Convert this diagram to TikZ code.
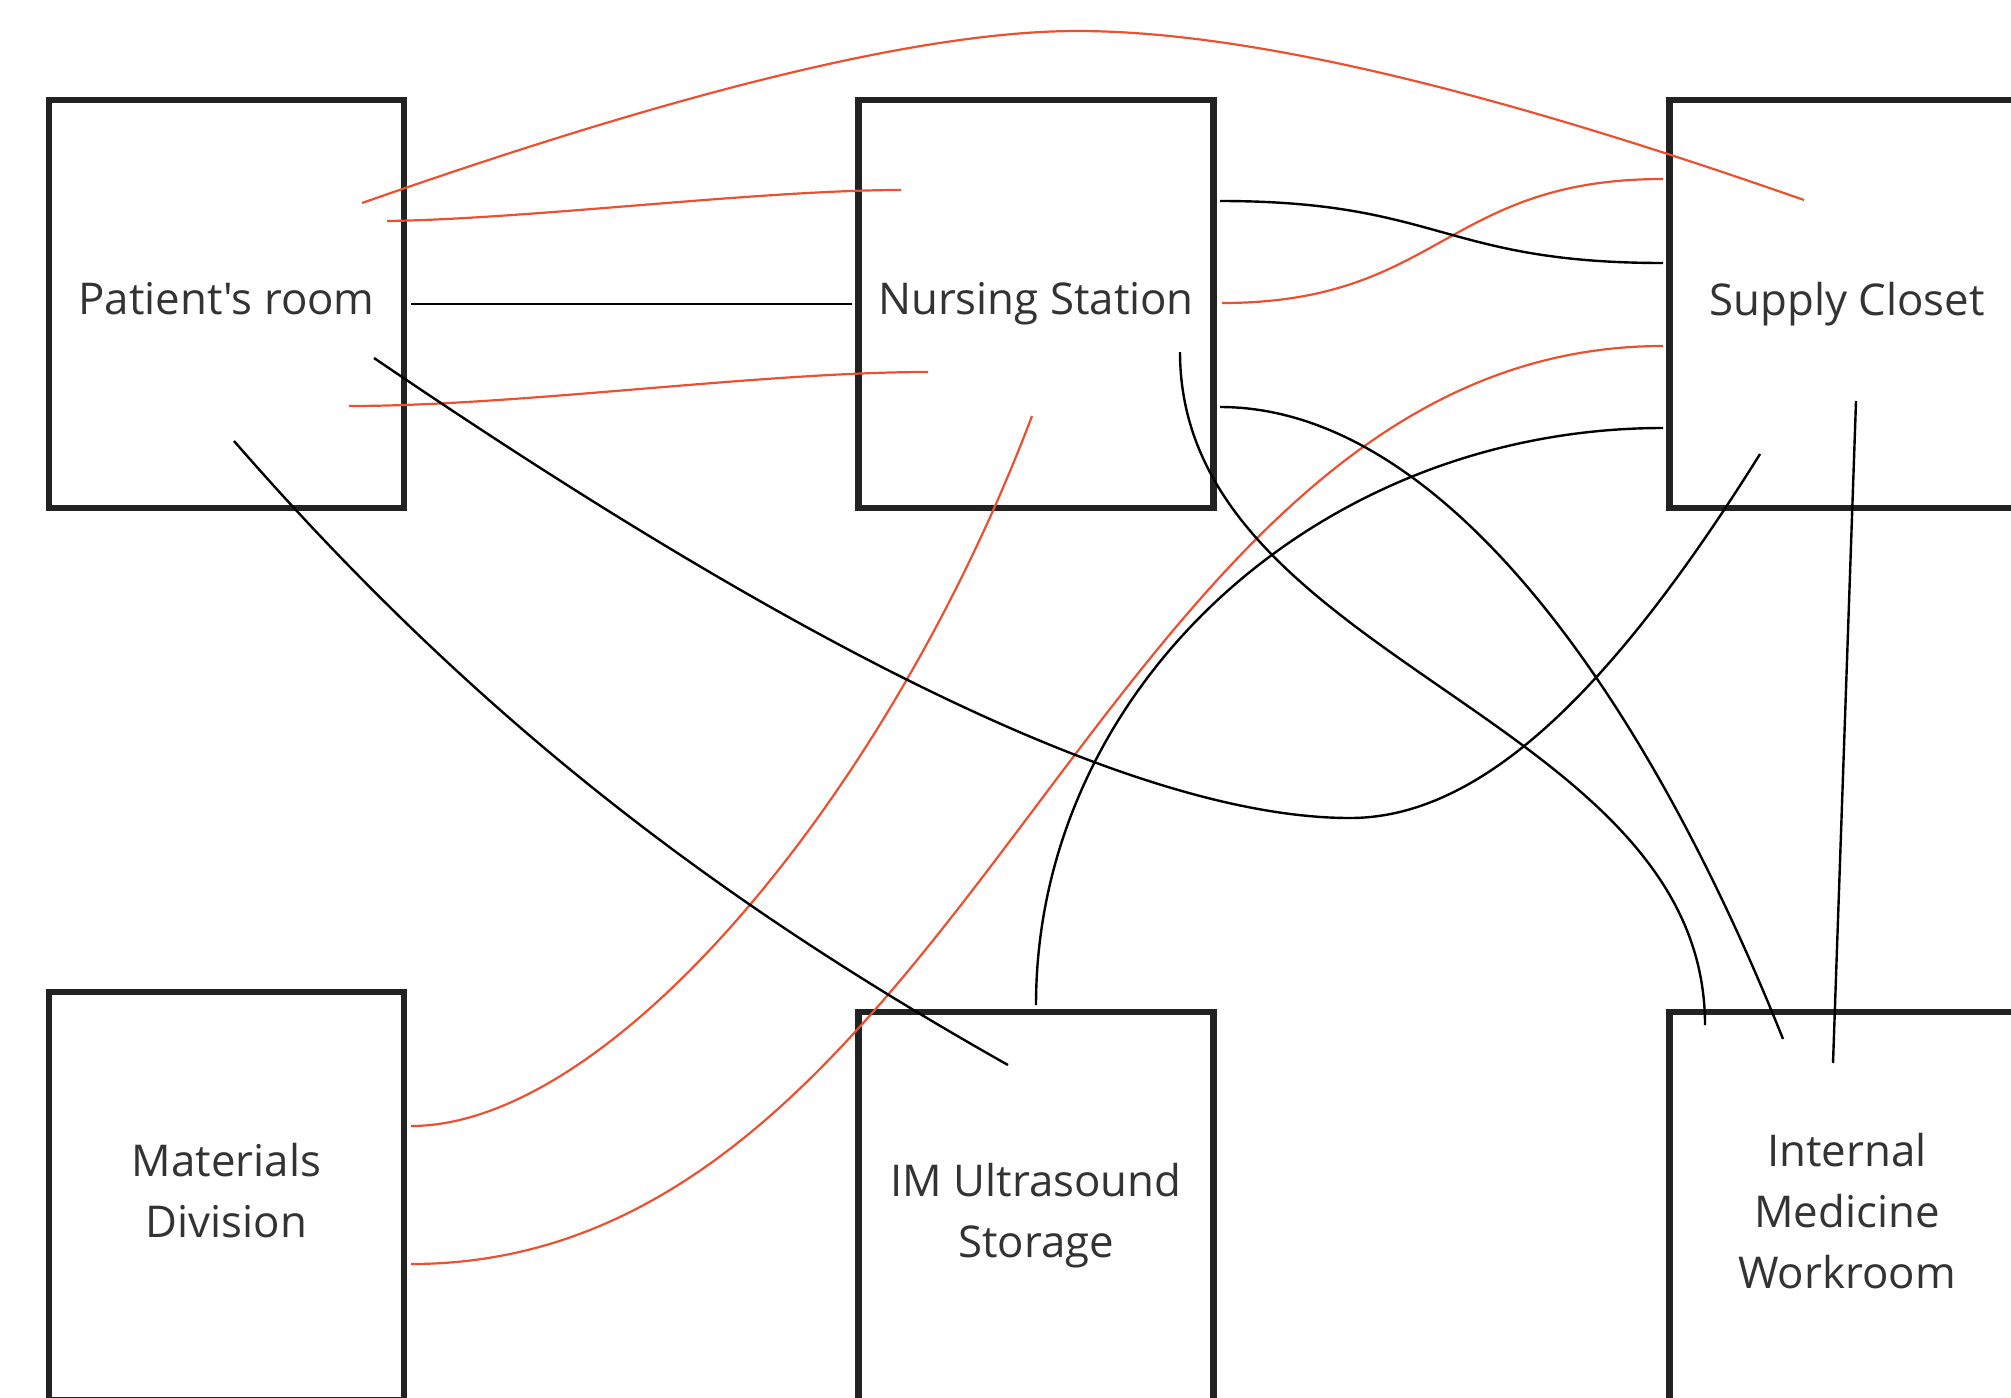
\documentclass[tikz,border=0pt]{standalone}
\usepackage{fontspec}
\usepackage{tikz}
\newfontfamily\roomfont{Open Sans}
\definecolor{linered}{RGB}{236,80,48}
\definecolor{boxgray}{RGB}{34,34,34}
\definecolor{textgray}{RGB}{51,51,51}

\begin{document}
\begin{tikzpicture}[x=0.5pt,y=-0.5pt,
  room/.style={draw=boxgray,line width=3.2pt,minimum width=177.5pt,minimum height=204pt,
    inner sep=0pt,align=center,text=textgray,font=\roomfont\fontsize{21.9}{30.4}\selectfont,
    execute at end node={\vphantom{g}}},
  redline/.style={draw=linered,line width=1.1pt},
  blackline/.style={draw=black,line width=1.2pt}]
\useasboundingbox (0,0) rectangle (2011,1397);
\clip (0,0) rectangle (2011,1397);
\node[room] (pat) at (226.5,304) {Patient's room};
\node[room] (nur) at (1036,304) {Nursing Station};
\node[room] (sup) at (1847,304) {Supply Closet};
\node[room] (mat) at (226.5,1196) {Materials\\Division};
\node[room] (ims) at (1036,1216) {IM Ultrasound\\Storage};
\node[room] (imw) at (1847,1216) {Internal\\Medicine\\Workroom};
\coordinate (r1a) at (362,203);
\coordinate (r1m) at (1077,31);
\coordinate (r1b) at (1804,200);
\coordinate (r2a) at (387,221);
\coordinate (r2b) at (901,190);
\coordinate (r3a) at (349,406);
\coordinate (r3b) at (928,372);
\coordinate (r4a) at (1222,303);
\coordinate (r4b) at (1663,179);
\coordinate (r5a) at (1032,416);
\coordinate (r5b) at (411,1126);
\coordinate (r6a) at (1663,346);
\coordinate (r6b) at (411,1264);
\coordinate (b1a) at (411,304);
\coordinate (b1b) at (852,304);
\coordinate (b2a) at (1220,201);
\coordinate (b2b) at (1663,263);
\coordinate (b3a) at (374,358);
\coordinate (b3m) at (1350,818);
\coordinate (b3b) at (1760,454);
\coordinate (b4a) at (234,441);
\coordinate (b4b) at (1008,1065);
\coordinate (b5a) at (1180,352);
\coordinate (b5b) at (1705,1025);
\coordinate (b6a) at (1220,407);
\coordinate (b6b) at (1783,1039);
\coordinate (b7a) at (1036,1005);
\coordinate (b7b) at (1663,428);
\coordinate (b8a) at (1856,401);
\coordinate (b8b) at (1833,1063);
\draw[redline] (r1a) .. controls +(200,-70) and +(-200,0) .. (r1m)
  .. controls +(200,0) and +(-250,-87.5) .. (r1b);
\draw[redline] (r2a) .. controls +(143,-2) and +(-141,0) .. (r2b);
\draw[redline] (r3a) .. controls +(171,0) and +(-168,0) .. (r3b);
\draw[redline] (r4a) .. controls +(218,0) and +(-218,0) .. (r4b);
\draw[redline] (r5a) .. controls +(-144,380) and +(200,0) .. (r5b);
\draw[redline] (r6a) .. controls +(-562,0) and +(562,0) .. (r6b);
\draw[blackline] (b1a) -- (b1b);
\draw[blackline] (b2a) .. controls +(220,0) and +(-220,0) .. (b2b);
\draw[blackline] (b3a) .. controls +(300,204) and +(-260,0) .. (b3m)
  .. controls +(130,0) and +(-150,240) .. (b3b);
\draw[blackline] (b4a) .. controls +(250,287) and +(-280,-158) .. (b4b);
\draw[blackline] (b5a) .. controls +(0,310) and +(0,-310) .. (b5b);
\draw[blackline] (b6a) .. controls +(220,0) and +(-140,-350) .. (b6b);
\draw[blackline] (b7a) .. controls +(0,-317) and +(-345,0) .. (b7b);
\draw[blackline] (b8a) -- (b8b);
\end{tikzpicture}
\end{document}
